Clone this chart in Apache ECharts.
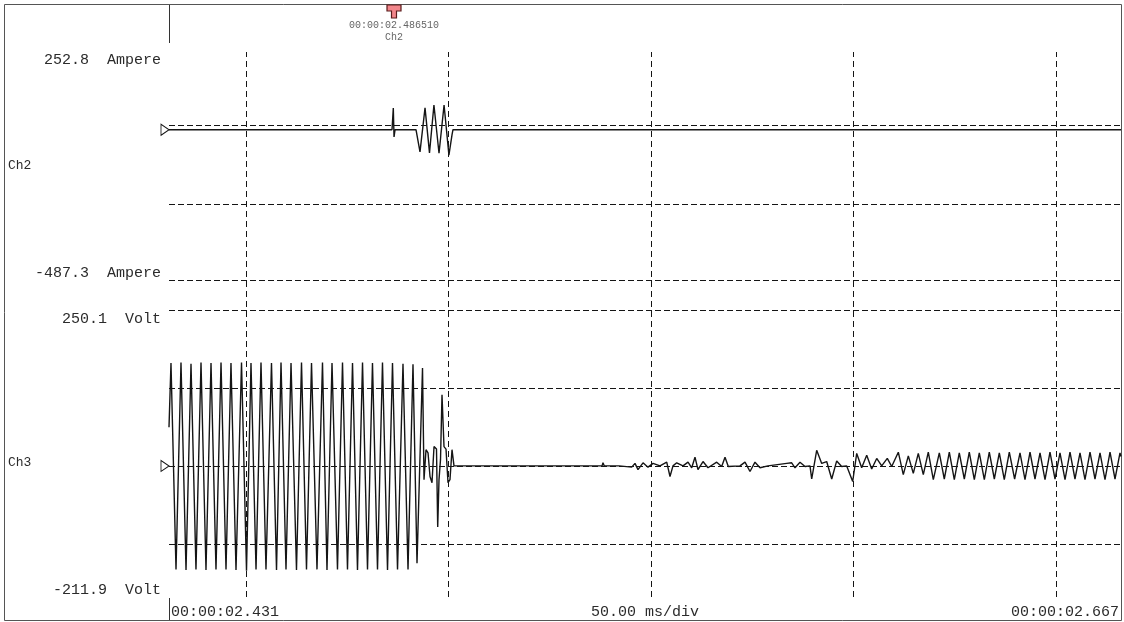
<!DOCTYPE html>
<html>
<head>
<meta charset="utf-8">
<script src="https://cdn.jsdelivr.net/npm/echarts@6/dist/echarts.min.js"></script>
<style>
  html, body { margin: 0; padding: 0; background: #ffffff; }
  #chart { width: 1124px; height: 622px; }
</style>
</head>
<body>
<div id="chart"></div>
<script>
// Recording window (milliseconds since 00:00:00)
const timeStartMs = 2431;
const timeEndMs = 2666;
const triggerMs = 2486.51;
const timePerDivMs = 50;
const divisionTimes = [2450, 2500, 2550, 2600, 2650];

// Channel scales and their dashed reference levels
const ch2Range = [-487.3, 252.8];      // Ampere
const ch3Range = [-211.9, 250.1];      // Volt
const ch2Levels = [0, -250, -487.3];
const ch3Levels = [250.1, 125, 0, -125];
const ch2Offset = -14;
const ch3Offset = 0;

// Ch2 current [time ms, A]
const ch2Trace = [
  [2431.00, -14], [2486.05, -14], [2486.37, 54], [2486.55, -37], [2486.80, -14],
  [2491.97, -14], [2492.30, -20], [2492.96, -84], [2494.20, 55], [2495.30, -87],
  [2496.40, 64], [2497.65, -88], [2498.90, 64], [2500.10, -94], [2500.86, -30],
  [2501.10, -14],
  [2543.90, -14], [2544.00, -19], [2544.10, -14],
  [2552.90, -14], [2553.00, -19], [2553.10, -14],
  [2561.90, -14], [2562.00, -19], [2562.10, -14],
  [2566.90, -14], [2567.00, -18], [2567.10, -14],
  [2573.90, -14], [2574.00, -19], [2574.10, -14],
  [2584.90, -14], [2585.00, -18], [2585.10, -14],
  [2594.90, -14], [2595.00, -19], [2595.10, -14],
  [2606.90, -14], [2607.00, -19], [2607.10, -14],
  [2611.90, -14], [2612.00, -18], [2612.10, -14],
  [2619.90, -14], [2620.00, -19], [2620.10, -14],
  [2626.90, -14], [2627.00, -18], [2627.10, -14],
  [2637.90, -14], [2638.00, -19], [2638.10, -14],
  [2666.00, -14]
];

// Ch3 voltage [time ms, V]
const ch3Trace = [
  [2431.00, 62],
  [2431.49, 165], [2432.73, -166], [2433.96, 166], [2435.20, -167],
  [2436.43, 164], [2437.66, -166], [2438.90, 166], [2440.13, -167],
  [2441.37, 165], [2442.60, -166], [2443.84, 166], [2445.07, -166],
  [2446.30, 165], [2447.54, -167], [2448.90, 166], [2450.13, -168],
  [2451.24, 165], [2452.48, -166], [2453.71, 166], [2454.94, -166],
  [2456.30, 165], [2457.54, -167], [2458.65, 166], [2459.88, -166],
  [2461.12, 165], [2462.47, -167], [2463.71, 166], [2464.94, -166],
  [2466.18, 165], [2467.53, -166], [2468.89, 166], [2470.00, -167],
  [2471.24, 165], [2472.59, -166], [2473.83, 166], [2475.06, -166],
  [2476.30, 165], [2477.53, -167], [2478.77, 166], [2480.00, -166],
  [2481.23, 165], [2482.47, -166], [2483.70, 166], [2484.94, -167],
  [2486.17, 165], [2487.41, -166], [2488.76, 164], [2490.00, -166],
  [2491.23, 163], [2492.22, -156], [2493.58, 157], [2493.95, -22],
  [2494.44, 26], [2494.94, 21], [2495.43, -17], [2495.92, -27],
  [2496.42, 31], [2497.03, 27], [2497.33, -98], [2497.65, -22],
  [2498.02, 10], [2498.39, 114], [2498.88, 31], [2499.38, 27],
  [2499.87, -27], [2500.36, -22], [2500.86, 26], [2501.35, 0],
  [2507.00, 0], [2507.28, 3], [2507.50, 0], [2512.30, 0], [2512.46, 2], [2512.70, 0],
  [2533.00, 0], [2533.20, 3], [2533.45, 0], [2537.90, 0], [2538.13, 5], [2538.45, 0],
  [2541.50, 0], [2541.80, -3], [2542.10, 0],
  [2545.22, -2], [2546.03, 4], [2546.77, -6], [2548.01, 5], [2549.24, -2],
  [2550.48, 4], [2552.20, 0], [2553.86, 6], [2554.67, -17], [2555.41, 0],
  [2556.33, 5], [2557.88, 0], [2559.12, 6], [2560.03, -3], [2560.84, 14],
  [2561.58, -6], [2562.82, 7], [2564.05, -3], [2566.20, 6], [2567.43, -1],
  [2568.25, 14], [2569.06, -1], [2571.95, 0], [2573.19, 6], [2574.42, -9],
  [2575.65, 6], [2576.89, -3], [2578.86, 0], [2583.48, 4], [2584.71, 5],
  [2585.53, -3], [2586.76, 6], [2588.00, -1], [2589.23, 0], [2589.65, -21],
  [2590.88, 25], [2592.12, 4], [2593.35, 7], [2594.59, -21], [2595.82, 8],
  [2597.05, -1], [2598.29, 0], [2599.77, -25], [2600.76, 20], [2601.99, -3],
  [2603.23, 17], [2604.46, -5], [2605.70, 12], [2606.93, 0], [2608.31, 12],
  [2609.40, -1], [2611.03, 22], [2612.26, -14], [2613.50, 16], [2614.73, -12],
  [2615.96, 20], [2617.20, -14], [2618.43, 22], [2619.67, -22],
  [2621.15, 21], [2622.38, -21], [2623.62, 22], [2624.85, -22], [2626.08, 21],
  [2627.32, -21], [2628.55, 22], [2629.79, -22], [2631.02, 21], [2632.26, -22],
  [2633.49, 22], [2634.73, -21], [2635.96, 21], [2637.19, -22], [2638.43, 22],
  [2639.74, -21], [2641.07, 21], [2642.30, -22], [2643.54, 22], [2644.77, -21],
  [2646.01, 21], [2647.24, -22], [2648.47, 22], [2649.71, -21], [2650.94, 21],
  [2652.18, -22], [2653.41, 22], [2654.64, -21], [2655.88, 21], [2657.11, -22],
  [2658.35, 22], [2659.58, -21], [2660.82, 21], [2662.05, -22], [2663.29, 22],
  [2664.52, -21], [2665.75, 21], [2666.00, 15]
];

// Text
const channelNames = ['Ch2', 'Ch3'];
const units = ['Ampere', 'Volt'];
const startLabel = '00:00:02.431';
const endLabel = '00:00:02.667';
const scaleLabel = timePerDivMs.toFixed(2) + ' ms/div';
const triggerLabel = '00:00:02.486510';

const MONO = '"Liberation Mono", "DejaVu Sans Mono", monospace';
const INK = '#151515';
const TEXT = '#2b2b2b';

const left = 169, right = 3;

function levelLines(values, dash) {
  return {
    silent: true,
    symbol: 'none',
    label: { show: false },
    lineStyle: { color: INK, width: 1, type: dash, opacity: 1 },
    emphasis: { disabled: true },
    data: values.map(v => ({ yAxis: v }))
  };
}

function rangeText(value, unit, y, id) {
  return {
    type: 'text', id: id, silent: true,
    style: {
      text: value.toFixed(1) + '  ' + unit,
      x: 161, y: y, align: 'right', verticalAlign: 'middle',
      font: '15px ' + MONO, fill: TEXT
    }
  };
}

function plainText(text, x, y, align, size, color, id) {
  return {
    type: 'text', id: id, silent: true,
    style: { text: text, x: x, y: y, align: align, verticalAlign: 'middle',
             font: size + 'px ' + MONO, fill: color }
  };
}

const offsetMarker = (xValue, yValue) => ({
  silent: true,
  symbol: 'path://M0,0 L10,7 L0,14 Z',
  symbolSize: [8, 11],
  symbolOffset: [-4, 0],
  itemStyle: { color: '#ffffff', borderColor: INK, borderWidth: 1 },
  label: { show: false },
  data: [{ coord: [xValue, yValue] }]
});

const chart = echarts.init(document.getElementById('chart'), null, { renderer: 'canvas' });

const option = {
  animation: false,
  backgroundColor: '#ffffff',
  grid: [
    { left: left, right: right, top: 45, height: 235 },
    { left: left, right: right, top: 310, height: 288 },
    { left: left, right: right, top: 52, height: 545 }
  ],
  xAxis: [0, 1, 2].map(i => ({
    type: 'value', gridIndex: i, min: timeStartMs, max: timeEndMs, show: false
  })),
  yAxis: [
    { type: 'value', gridIndex: 0, min: ch2Range[0], max: ch2Range[1], show: false },
    { type: 'value', gridIndex: 1, min: ch3Range[0], max: ch3Range[1], show: false },
    { type: 'value', gridIndex: 2, min: 0, max: 1, show: false }
  ],
  series: [
    {
      // time divisions
      type: 'line', xAxisIndex: 2, yAxisIndex: 2, z: 1,
      data: [[timeStartMs, 0.5], [timeEndMs, 0.5]],
      symbol: 'none', lineStyle: { opacity: 0 }, silent: true,
      markLine: {
        silent: true, symbol: 'none', label: { show: false },
        lineStyle: { color: INK, width: 1, type: [6, 4], opacity: 1 },
        emphasis: { disabled: true },
        data: divisionTimes.map(t => ({ xAxis: t }))
      }
    },
    {
      name: channelNames[0], type: 'line', xAxisIndex: 0, yAxisIndex: 0, z: 3,
      data: ch2Trace, symbol: 'none', showSymbol: false,
      lineStyle: { color: INK, width: 1.4 },
      markLine: levelLines(ch2Levels, [6, 3]),
      markPoint: offsetMarker(timeStartMs, ch2Offset)
    },
    {
      name: channelNames[1], type: 'line', xAxisIndex: 1, yAxisIndex: 1, z: 3,
      data: ch3Trace, symbol: 'none', showSymbol: false,
      lineStyle: { color: INK, width: 1.4 },
      markLine: levelLines(ch3Levels, [6, 3]),
      markPoint: offsetMarker(timeStartMs, ch3Offset)
    }
  ],
  graphic: [
    { type: 'rect', id: 'frame', silent: true,
      shape: { x: 4.5, y: 4.5, width: 1117, height: 616 },
      style: { fill: 'none', stroke: '#555555', lineWidth: 1 } },
    { type: 'line', id: 'topTick', silent: true,
      shape: { x1: 169.5, y1: 5, x2: 169.5, y2: 43 },
      style: { stroke: '#333333', lineWidth: 1 } },
    { type: 'line', id: 'bottomTick', silent: true,
      shape: { x1: 169.5, y1: 598, x2: 169.5, y2: 620 },
      style: { stroke: '#333333', lineWidth: 1 } },
    rangeText(ch2Range[1], units[0], 60, 'ch2Max'),
    rangeText(ch2Range[0], units[0], 273, 'ch2Min'),
    rangeText(ch3Range[1], units[1], 319, 'ch3Max'),
    rangeText(ch3Range[0], units[1], 590, 'ch3Min'),
    plainText(channelNames[0], 8, 166, 'left', 13, TEXT, 'ch2Name'),
    plainText(channelNames[1], 8, 463, 'left', 13, TEXT, 'ch3Name'),
    plainText(startLabel, 171, 612, 'left', 15, TEXT, 'startTime'),
    plainText(scaleLabel, 645, 612, 'center', 15, TEXT, 'scale'),
    plainText(endLabel, 1119, 612, 'right', 15, TEXT, 'endTime')
  ]
};

chart.setOption(option);

// Trigger marker placed at the trigger instant on the time scale
const trigX = Math.round(chart.convertToPixel({ xAxisIndex: 0 }, triggerMs));
chart.setOption({
  graphic: [
    { type: 'polygon', id: 'trigIcon', silent: true,
      shape: { points: [[trigX - 7, 5], [trigX + 7, 5], [trigX + 7, 11], [trigX + 2.5, 11],
                        [trigX + 2.5, 18], [trigX - 2.5, 18], [trigX - 2.5, 11], [trigX - 7, 11]] },
      style: { fill: '#f2868b', stroke: '#5a1c1c', lineWidth: 1.2 } },
    plainText(triggerLabel, trigX, 25, 'center', 10, '#666666', 'trigTime'),
    plainText(channelNames[0], trigX, 37, 'center', 10, '#666666', 'trigCh')
  ]
});
</script>
</body>
</html>
